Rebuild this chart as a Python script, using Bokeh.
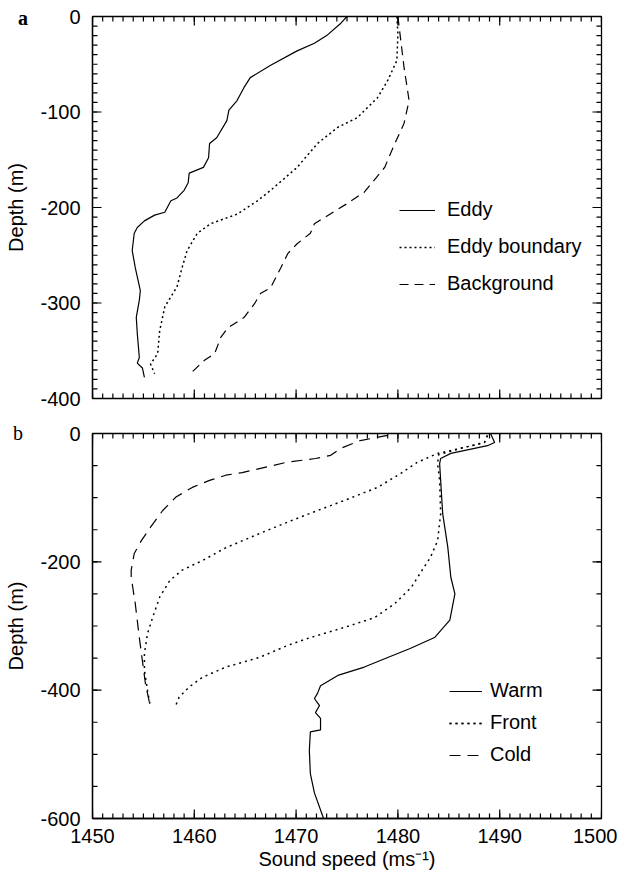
from bokeh.plotting import figure
from bokeh.models import (Range1d, LinearAxis, FixedTicker, Legend, LegendItem, Div)
from bokeh.layouts import column
from bokeh.embed import file_html
from bokeh.resources import INLINE

# ---------------- data: panel a ----------------
eddy_depth = [0, -7, -20, -28, -36, -51, -64, -74, -88, -98, -109, -127, -133, -148, -158, -164,
              -174, -182, -190, -193, -205, -208, -214, -221, -227, -245, -263, -287, -297, -315,
              -332, -357, -363, -368, -378]
eddy_speed = [1475.0, 1474.4, 1473.0, 1471.8, 1470.1, 1467.5, 1465.5, 1464.9, 1464.2, 1463.4,
              1463.2, 1462.2, 1461.5, 1461.4, 1460.9, 1459.5, 1459.4, 1459.0, 1458.3, 1457.7,
              1457.1, 1456.1, 1455.1, 1454.4, 1454.1, 1453.9, 1454.2, 1454.7, 1454.6, 1454.3,
              1454.4, 1454.6, 1454.4, 1454.9, 1455.1]

boundary_depth = [0, -18, -46, -67, -85, -106, -116, -133, -158, -182, -193, -207, -217, -227,
                  -245, -263, -283, -304, -329, -353, -364, -374]
boundary_speed = [1479.9, 1480.0, 1479.9, 1479.0, 1478.0, 1476.0, 1474.1, 1472.1, 1470.1, 1467.5,
                  1466.2, 1464.2, 1461.6, 1460.3, 1459.3, 1458.8, 1458.3, 1457.1, 1456.6, 1456.4,
                  1455.7, 1456.1]

background_depth = [0, -53, -88, -112, -133, -158, -184, -196, -217, -227, -238, -248, -263, -284,
                    -290, -301, -315, -326, -336, -353, -360, -374]
background_speed = [1480.0, 1480.6, 1481.1, 1480.6, 1479.7, 1478.7, 1476.7, 1475.0, 1471.8, 1471.4,
                    1470.1, 1469.2, 1468.5, 1467.5, 1466.5, 1465.9, 1464.9, 1463.3, 1462.6, 1462.0,
                    1461.0, 1459.6]

# ---------------- data: panel b ----------------
warm_depth = [0, -14, -19, -31, -39, -47, -73, -125, -177, -224, -250, -291, -318, -335, -349,
              -364, -377, -393, -405, -413, -424, -435, -444, -462, -465, -494, -530, -560, -600]
warm_speed = [1489.1, 1489.5, 1488.8, 1485.2, 1484.2, 1484.1, 1484.2, 1484.4, 1484.9, 1485.2,
              1485.6, 1485.1, 1483.6, 1481.2, 1479.0, 1476.7, 1474.1, 1472.4, 1472.1, 1471.8,
              1472.3, 1471.9, 1472.4, 1472.4, 1471.4, 1471.3, 1471.4, 1471.8, 1472.7]

front_upper_depth = [-3, -14, -23, -31, -45, -62, -84, -104, -120, -136, -156, -178, -198, -213,
                     -229, -255, -287, -312, -343, -369, -400, -427]
front_upper_speed = [1488.8, 1488.5, 1486.2, 1483.9, 1481.9, 1480.3, 1478.0, 1474.8, 1472.1, 1469.5,
                     1466.4, 1463.1, 1460.8, 1458.8, 1457.6, 1456.6, 1455.9, 1455.4, 1455.1, 1455.1,
                     1455.4, 1455.7]

front_lower_depth = [-3, -14, -23, -33, -47, -73, -125, -167, -193, -210, -240, -265, -287, -302,
                     -318, -330, -349, -364, -380, -395, -411, -427]
front_lower_speed = [1488.8, 1488.5, 1486.2, 1484.0, 1483.9, 1484.1, 1484.2, 1483.9, 1483.2, 1482.5,
                     1481.3, 1479.7, 1477.7, 1474.8, 1471.4, 1469.2, 1466.4, 1463.1, 1460.8, 1459.5,
                     1458.5, 1458.1]

cold_depth = [-3, -11, -23, -34, -39, -45, -50, -61, -65, -73, -84, -99, -120, -146, -167, -187,
              -213, -224, -265, -318, -354, -390, -427]
cold_speed = [1479.0, 1476.3, 1474.4, 1473.4, 1471.9, 1469.0, 1467.7, 1464.7, 1463.1, 1461.5,
              1459.8, 1458.2, 1456.9, 1455.7, 1454.8, 1454.1, 1453.8, 1453.8, 1454.2, 1454.6,
              1454.9, 1455.2, 1455.7]

x_ticks = [1450, 1460, 1470, 1480, 1490, 1500]
x_minor = list(range(1450, 1501))
ya_ticks = [0, -100, -200, -300, -400]
ya_minor = list(range(-400, 1, 10))
yb_ticks = [0, -200, -400, -600]
yb_minor = list(range(-600, 1, 50))

FONT = "Liberation Sans"
FS = "20px"
X0, X1 = 1450, 1500
FRAME_W = 509


def style_axis(ax):
    ax.axis_line_color = "black"
    ax.axis_line_width = 1.3
    ax.major_tick_in = 0
    ax.major_tick_out = 0
    ax.minor_tick_in = 0
    ax.minor_tick_out = 0
    ax.major_label_text_font = FONT
    ax.major_label_text_font_size = FS
    ax.major_label_text_color = "black"
    ax.axis_label_text_font = FONT
    ax.axis_label_text_font_style = "normal"
    ax.axis_label_text_font_size = FS
    ax.axis_label_text_color = "black"


def inward_ticks(p, y0, y1, yticks, yminor, frame_h):
    # tick marks drawn inside the frame, from each frame edge inward (lengths in pixels)
    dx = (X1 - X0) / FRAME_W
    dy = (y1 - y0) / frame_h
    for pos, px in ((x_minor, 5), (x_ticks, 9)):
        for t in pos:
            p.line([t, t], [y0, y0 + px * dy], line_color="black", line_width=1.2)
            p.line([t, t], [y1, y1 - px * dy], line_color="black", line_width=1.2)
    for pos, px in ((yminor, 5), (yticks, 9)):
        for t in pos:
            p.line([X0, X0 + px * dx], [t, t], line_color="black", line_width=1.2)
            p.line([X1, X1 - px * dx], [t, t], line_color="black", line_width=1.2)


def make_fig(y0, y1, yticks, yminor, height_frame, top, bottom, x_labels):
    p = figure(frame_width=FRAME_W, frame_height=height_frame, output_backend="svg",
               toolbar_location=None, x_range=Range1d(X0, X1), y_range=Range1d(y0, y1),
               min_border_left=92, min_border_right=16, min_border_top=top, min_border_bottom=bottom,
               x_axis_location=None, y_axis_location=None)
    p.grid.visible = False
    p.outline_line_color = "black"
    p.outline_line_width = 1.3
    p.background_fill_color = "white"
    p.border_fill_color = "white"

    if x_labels:
        xb = LinearAxis(ticker=FixedTicker(ticks=x_ticks))
        style_axis(xb)
        xb.axis_label = "Sound speed (ms\u207b\u00b9)"
        xb.major_label_standoff = 10
        xb.axis_label_standoff = 2
        p.add_layout(xb, "below")

    yl = LinearAxis(ticker=FixedTicker(ticks=yticks), axis_label="Depth (m)")
    style_axis(yl)
    yl.major_label_overrides = {t: str(t) for t in yticks}
    yl.major_label_standoff = 12
    yl.axis_label_standoff = 10
    p.add_layout(yl, "left")
    return p


# ---------------- panel a ----------------
FH_A = 382
pa = make_fig(-400, 0, ya_ticks, ya_minor, FH_A, 16, 17, False)
ra1 = pa.line(eddy_speed, eddy_depth, line_color="black", line_width=1.2)
ra2 = pa.line(boundary_speed, boundary_depth, line_color="black", line_width=1.5, line_dash="2 3")
ra3 = pa.line(background_speed, background_depth, line_color="black", line_width=1.2, line_dash="9 6")
inward_ticks(pa, -400, 0, ya_ticks, ya_minor, FH_A)
leg_a = Legend(items=[LegendItem(label="Eddy", renderers=[ra1]),
                     LegendItem(label="Eddy boundary", renderers=[ra2]),
                     LegendItem(label="Background", renderers=[ra3])],
               location=(307, 103))
pa.add_layout(leg_a, "center")

# ---------------- panel b ----------------
FH_B = 385
pb = make_fig(-600, 0, yb_ticks, yb_minor, FH_B, 18, 50, True)
rb1 = pb.line(warm_speed, warm_depth, line_color="black", line_width=1.2)
rb2 = pb.line(front_upper_speed, front_upper_depth, line_color="black", line_width=1.5, line_dash="2 4")
rb2b = pb.line(front_lower_speed, front_lower_depth, line_color="black", line_width=1.5, line_dash="2 4")
rb3 = pb.line(cold_speed, cold_depth, line_color="black", line_width=1.2, line_dash="11 7")
inward_ticks(pb, -600, 0, yb_ticks, yb_minor, FH_B)
leg_b = Legend(items=[LegendItem(label="Warm", renderers=[rb1]),
                     LegendItem(label="Front", renderers=[rb2, rb2b]),
                     LegendItem(label="Cold", renderers=[rb3])],
               location=(357, 52))
pb.add_layout(leg_b, "center")

for lg, sp, gw, st in ((leg_a, 14, 36, 12), (leg_b, 9, 33, 8)):
    lg.label_text_font = FONT
    lg.label_text_font_size = FS
    lg.label_text_color = "black"
    lg.border_line_color = None
    lg.background_fill_alpha = 0
    lg.padding = 0
    lg.margin = 0
    lg.spacing = sp
    lg.glyph_width = gw
    lg.glyph_height = 20
    lg.label_height = 20
    lg.label_standoff = st

# panel letters (positioned over the page, outside the flow of the column)
letter_style = {"position": "absolute", "font-family": "Liberation Serif", "font-size": "20px",
                "line-height": "20px", "color": "black", "z-index": "10"}
div_a = Div(text="a", width=20, height=20,
            styles=dict(letter_style, left="13px", top="3px", **{"font-weight": "bold"}))
div_b = Div(text="b", width=20, height=20,
            styles=dict(letter_style, left="8px", top="418px"))

layout = column(pa, pb, div_a, div_b, spacing=0)
open("out.html", "w").write(file_html(layout, INLINE))
